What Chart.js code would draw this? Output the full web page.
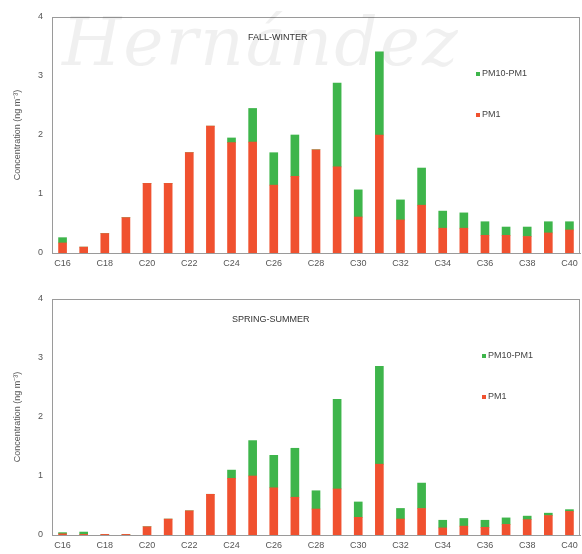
<!DOCTYPE html>
<html lang="en">
<head>
    <meta charset="UTF-8">
    <title>PM1 / PM10-PM1 n-alkanes</title>
    <style>
        body {
            margin: 0;
            background: #ffffff;
            font-family: "Liberation Sans", Arial, sans-serif;
        }
        .wrap {
            position: relative;
            width: 582px;
            height: 554px;
            overflow: hidden;
        }
        .panel {
            position: absolute;
            left: 0;
            width: 582px;
        }
        .watermark {
            position: absolute;
            left: 62px;
            top: 2px;
            font-family: "DejaVu Serif", serif;
            font-style: italic;
            font-size: 68px;
            color: rgba(0, 0, 0, 0.06);
            letter-spacing: 2px;
            pointer-events: none;
        }
    </style>
</head>
<body>
    <div class="wrap">
        <div class="panel" style="top:0;height:272px"><canvas id="fallChart"></canvas></div>
        <div class="panel" style="top:282px;height:272px"><canvas id="springChart"></canvas></div>
        <div class="watermark">Hernández</div>
    </div>
    <script src="https://cdn.jsdelivr.net/npm/chart.js"></script>
    <script>
        const categories = ['C16', 'C17', 'C18', 'C19', 'C20', 'C21', 'C22', 'C23', 'C24', 'C25', 'C26', 'C27', 'C28',
            'C29', 'C30', 'C31', 'C32', 'C33', 'C34', 'C35', 'C36', 'C37', 'C38', 'C39', 'C40'];
        const yTicks = [0, 1, 2, 3, 4];

        // fall-winter
        const fallPM1 = [0.17, 0.1, 0.33, 0.6, 1.18, 1.18, 1.7, 2.15, 1.87, 1.88, 1.15, 1.3, 1.75,
            1.46, 0.61, 2.0, 0.56, 0.81, 0.42, 0.42, 0.3, 0.3, 0.28, 0.34, 0.39];
        const fallCoarse = [0.09, 0, 0, 0, 0, 0, 0, 0, 0.08, 0.57, 0.55, 0.7, 0,
            1.42, 0.46, 1.41, 0.34, 0.63, 0.29, 0.26, 0.23, 0.14, 0.16, 0.19, 0.14];

        // spring-summer
        const springPM1 = [0.02, 0.01, 0.01, 0.01, 0.14, 0.27, 0.41, 0.69, 0.96, 1.0, 0.8, 0.64, 0.44,
            0.78, 0.3, 1.2, 0.27, 0.45, 0.12, 0.15, 0.13, 0.18, 0.26, 0.33, 0.4];
        const springCoarse = [0.02, 0.04, 0, 0, 0, 0, 0, 0, 0.14, 0.6, 0.55, 0.83, 0.31,
            1.52, 0.26, 1.66, 0.18, 0.43, 0.13, 0.13, 0.12, 0.11, 0.06, 0.04, 0.03];

        const RED = '#f0512f';
        const GREEN = '#3eb54b';

        // titles and legend inside the plot, like the original figure
        const panelText = {
            id: 'panelText',
            afterDraw(chart, args, opts) {
                const ctx = chart.ctx;
                const area = chart.chartArea;
                ctx.save();
                ctx.font = '9px "Liberation Sans", Arial, sans-serif';
                ctx.fillStyle = '#333';
                ctx.textBaseline = 'middle';
                ctx.textAlign = 'left';
                ctx.fillText(opts.title, opts.titleX, area.top + opts.titleDy);
                // legend: top dataset first
                const items = chart.data.datasets.slice().reverse();
                items.forEach((ds, i) => {
                    const y = area.top + opts.legendDy + i * 41;
                    ctx.fillStyle = ds.backgroundColor;
                    ctx.fillRect(opts.legendX, y - 2, 4, 4);
                    ctx.fillStyle = '#444';
                    ctx.fillText(ds.label, opts.legendX + 6, y);
                });
                // frame
                ctx.strokeStyle = '#9a9a9a';
                ctx.lineWidth = 1;
                ctx.strokeRect(area.left + 0.5, area.top + 0.5, area.right - area.left - 1, area.bottom - area.top);
                ctx.restore();
            }
        };

        function makeChart(id, pm1, coarse, title, titleX, legendX) {
            const ctx = document.getElementById(id).getContext('2d');
            return new Chart(ctx, {
                type: 'bar',
                data: {
                    labels: categories,
                    datasets: [
                        { label: 'PM1', data: pm1, backgroundColor: RED, barThickness: 8 },
                        { label: 'PM10-PM1', data: coarse, backgroundColor: GREEN, barThickness: 8 }
                    ]
                },
                plugins: [panelText],
                options: {
                    responsive: true,
                    maintainAspectRatio: false,
                    animation: false,
                    layout: { padding: { top: 17, right: 2, left: 0, bottom: 0 } },
                    plugins: {
                        legend: { display: false },
                        tooltip: { enabled: false },
                        panelText: { title: title, titleX: titleX, titleDy: 21, legendX: legendX, legendDy: 57 }
                    },
                    scales: {
                        x: {
                            stacked: true,
                            grid: { display: false, drawTicks: true, tickLength: 3, color: '#8aa0d0' },
                            border: { color: '#9a9a9a' },
                            afterFit(scale) { scale.height = 19; },
                            ticks: {
                                autoSkip: false,
                                maxRotation: 0,
                                padding: 2,
                                color: '#555',
                                font: { size: 9 },
                                callback(value, index) {
                                    return index % 2 === 0 ? categories[index] : '';
                                }
                            }
                        },
                        y: {
                            stacked: true,
                            min: 0,
                            max: 4,
                            afterFit(scale) { scale.width = 52; },
                            afterBuildTicks(scale) {
                                scale.ticks = yTicks.map(v => ({ value: v }));
                            },
                            grid: { display: false, drawTicks: true, tickLength: 3 },
                            border: { color: '#9a9a9a' },
                            title: {
                                display: true,
                                text: 'Concentration (ng m\u207B\u00B3)',
                                color: '#555',
                                font: { size: 9 },
                                padding: { top: 12, bottom: 0 }
                            },
                            ticks: {
                                color: '#555',
                                font: { size: 9 },
                                padding: 6
                            }
                        }
                    }
                }
            });
        }

        makeChart('fallChart', fallPM1, fallCoarse, 'FALL-WINTER', 248, 476);
        makeChart('springChart', springPM1, springCoarse, 'SPRING-SUMMER', 232, 482);
    </script>
</body>
</html>
